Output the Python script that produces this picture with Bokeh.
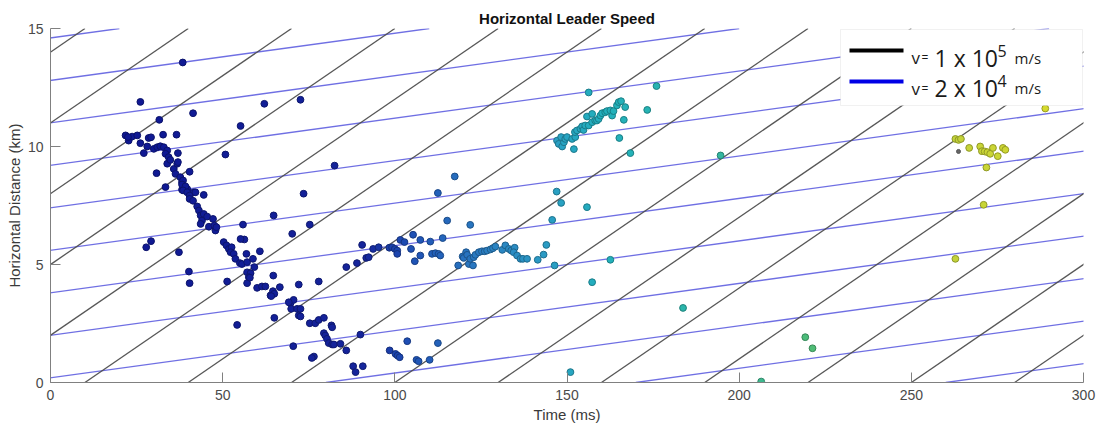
from bokeh.plotting import figure
from bokeh.models import Range1d, FixedTicker, Label, BoxAnnotation, ColumnDataSource, LinearColorMapper
from bokeh.transform import transform
from bokeh.embed import file_html
from bokeh.resources import INLINE

# ---------------- data ----------------
time_ms = [
    38.4, 26.1, 41.4, 31.6, 62.1, 72.6, 55.2, 50.8,
    21.8, 22.7, 23.7, 25.2, 22.5, 26.1, 28.5, 29.2, 32.7, 36.6,
    27.1, 28.1, 30.0, 31.0, 31.9, 32.9, 33.9, 33.4, 34.3, 33.9, 34.8, 35.8, 36.8, 37.0, 36.3, 37.7,
    38.2, 38.7, 39.7, 40.6, 41.6, 44.5, 38.2, 30.8, 33.4, 40.4, 37.0,
    38.5, 38.2, 39.2, 38.5, 39.7, 40.4, 40.4, 42.1, 41.4, 42.6, 43.1, 43.6, 44.5, 44.0, 45.5, 43.6,
    46.0, 47.2, 47.6, 47.9, 48.2,
    27.8, 29.2, 37.3, 40.2, 40.4,
    50.3, 51.1, 51.8, 52.6, 52.3, 53.2, 53.7, 55.0, 55.6, 56.3, 55.2, 55.9, 56.9, 57.1, 58.8, 59.2,
    60.8, 64.8, 70.2, 64.7, 57.1, 58.1, 57.6, 51.3, 54.2,
    57.1, 57.9, 60.0, 61.4, 62.4, 63.9, 64.6, 65.0, 66.6, 64.1, 65.0, 70.5, 69.7, 70.6, 69.9, 71.6,
    72.1, 72.1, 75.3, 77.9, 69.2, 72.6,
    72.6, 75.3, 76.9, 77.9, 79.4, 81.6, 81.8, 79.4, 79.8, 80.3, 80.8, 81.8, 82.3, 84.2, 85.9, 76.5, 75.9,
    87.9, 88.6, 90.7, 90.0,
    98.5, 100.2, 100.8, 101.4, 103.6, 106.3, 106.9, 110.1, 112.5,
    82.5, 73.5,
    85.9, 89.0, 91.7, 92.4, 90.5, 93.7, 95.3, 98.4, 99.2, 100.0, 100.7, 100.7, 101.6, 102.8, 105.3,
    104.7, 105.8, 107.4, 107.4, 110.3, 110.8, 111.8, 112.7, 113.2, 115.2, 113.9,
    117.4, 112.5, 121.9,
    118.4, 119.7, 120.0, 120.7, 121.0, 121.5, 121.9, 122.7, 122.9, 123.4, 124.4, 125.3, 126.1, 126.8,
    127.8, 128.5, 129.2, 131.2, 132.1, 133.1, 133.8, 134.8, 134.5, 135.5, 136.5, 137.2, 138.4, 141.5,
    143.2, 144.0, 146.4, 145.7, 147.0, 148.3, 155.8, 157.3,
    156.3, 176.0, 147.1, 147.6, 148.6, 149.1, 148.3, 149.5, 150.0, 151.5, 152.0, 152.4, 152.3, 152.9,
    153.9, 154.4, 154.8, 155.3, 155.8, 156.3, 157.3, 157.3, 158.2, 158.7, 159.2, 159.7, 160.2, 161.1,
    161.6, 162.6, 163.1, 163.5, 164.5, 165.0, 165.7, 166.9, 166.5, 165.2, 168.4, 173.3, 194.6,
    162.6, 151.0, 183.7, 219.2, 221.3, 206.4,
    262.8, 263.7, 264.4, 266.8, 270.0, 270.5, 271.3, 272.1, 272.9, 273.7, 275.1, 276.6, 277.3,
    271.8, 271.0, 262.8, 288.9,
]
dist_km = [
    13.56, 11.89, 11.41, 11.13, 11.81, 11.98, 10.87, 9.66,
    10.47, 10.25, 10.42, 10.47, 10.40, 10.14, 10.36, 10.39, 10.50, 10.50,
    9.72, 10.00, 9.90, 9.97, 10.01, 9.97, 9.83, 9.69, 9.55, 9.27, 9.43, 9.05, 9.27, 9.72, 8.84, 8.70,
    8.49, 8.28, 8.20, 7.99, 8.06, 7.95, 8.17, 8.87, 8.28, 8.93, 9.34,
    8.56, 8.39, 8.31, 8.14, 8.06, 7.92, 7.78, 8.06, 7.70, 7.46, 7.29, 7.08, 7.14, 6.86, 7.03, 6.72,
    6.60, 6.93, 6.65, 6.44, 6.58,
    5.73, 5.99, 5.52, 4.70, 4.21,
    5.95, 5.81, 5.66, 5.73, 5.52, 5.45, 5.24, 5.06, 5.02, 6.06, 6.08, 6.69, 5.45, 5.10, 5.24, 4.89,
    5.56, 7.08, 6.30, 4.53, 4.67, 4.63, 4.46, 4.28, 2.44,
    4.21, 4.44, 4.01, 4.07, 4.07, 3.69, 3.87, 3.76, 4.04, 3.66, 2.74, 1.54, 3.36, 3.50, 3.12, 3.12,
    2.84, 4.15, 6.69, 4.28, 3.40, 3.12,
    2.80, 2.51, 2.51, 2.65, 2.74, 2.42, 2.34, 2.09, 1.99, 1.85, 1.67, 1.61, 1.61, 1.64, 1.36, 1.10, 1.04,
    0.69, 0.44, 0.69, 2.03,
    1.36, 1.21, 1.14, 1.07, 1.75, 0.96, 0.90, 0.96, 1.67,
    9.19, 8.00,
    4.89, 5.06, 5.28, 5.31, 5.83, 5.66, 5.73, 5.71, 5.73, 5.66, 5.59, 5.45, 6.04, 5.95, 6.26,
    5.66, 5.14, 6.04, 5.38, 5.97, 5.45, 5.48, 5.45, 5.38, 6.86, 6.12,
    8.73, 8.03, 6.68,
    4.96, 5.34, 5.28, 5.52, 5.41, 5.02, 5.24, 4.96, 5.31, 5.41, 5.52, 5.56, 5.56, 5.59,
    5.64, 5.69, 5.76, 5.62, 5.81, 5.66, 5.59, 5.71, 5.52, 5.38, 5.24, 5.24, 5.24, 5.20,
    5.42, 5.83, 4.96, 6.89, 8.09, 7.61, 7.43, 4.25,
    12.29, 12.56, 10.25, 10.11, 10.00, 10.18, 10.40, 10.32, 10.40, 10.32, 9.89, 10.40, 10.61, 10.68,
    10.75, 10.85, 10.70, 10.89, 11.27, 10.89, 11.38, 11.03, 11.10, 11.10, 11.17, 11.31, 11.41, 11.45,
    11.50, 11.53, 11.31, 11.50, 11.74, 11.88, 11.92, 11.67, 11.13, 10.36, 9.72, 11.55, 9.62,
    5.20, 0.44, 3.16, 1.92, 1.45, 0.04,
    10.32, 10.28, 10.32, 9.94, 10.00, 9.80, 9.79, 9.76, 9.69, 9.94, 9.59, 9.94, 9.86,
    9.11, 7.53, 5.24, 11.61,
]
flag_time_ms = [263.7]
flag_dist_km = [9.79]

fast_speed_km_per_ms = 0.1    # 1 x 10^5 m/s
slow_speed_km_per_ms = 0.02   # 2 x 10^4 m/s
fast_start_ms = [-140, -110, -80, -50, -20, 10, 40, 70, 100, 130, 160, 190, 220, 250, 280]
slow_start_ms = [-730, -640, -550, -460, -370, -280, -190, -100, -10, 80, 170, 260]

x_ticks = [0, 50, 100, 150, 200, 250, 300]
y_ticks = [0, 5, 10, 15]
x_min, x_max = 0, 300
y_min, y_max = 0, 15

title_text = "Horizontal Leader Speed"
x_label = "Time (ms)"
y_label = "Horizontal Distance (km)"

# ---------------- colours ----------------
color_stops = [(20, "#0e1792"), (90, "#15249b"), (105, "#1f52b6"), (125, "#2a7cc2"),
               (145, "#2a9ec4"), (160, "#22b0bd"), (180, "#28b4b0"), (200, "#38b79a"),
               (220, "#4cbc78"), (262, "#c2d23a"), (290, "#d6da2e")]


def hex2rgb(h):
    return tuple(int(h[i:i + 2], 16) for i in (1, 3, 5))


def build_palette(stops, n, factor=1.0):
    lo, hi = stops[0][0], stops[-1][0]
    out = []
    for k in range(n):
        v = lo + (hi - lo) * k / (n - 1)
        for (a, ca), (b, cb) in zip(stops[:-1], stops[1:]):
            if a <= v <= b:
                f = (v - a) / (b - a)
                r1, r2 = hex2rgb(ca), hex2rgb(cb)
                rgb = [int(round((x1 + (x2 - x1) * f) * factor)) for x1, x2 in zip(r1, r2)]
                out.append("#%02x%02x%02x" % tuple(rgb))
                break
    return out


fill_pal = build_palette(color_stops, 256)
edge_pal = build_palette(color_stops, 256, 0.72)
fill_map = LinearColorMapper(palette=fill_pal, low=color_stops[0][0], high=color_stops[-1][0])
edge_map = LinearColorMapper(palette=edge_pal, low=color_stops[0][0], high=color_stops[-1][0])

# ---------------- figure ----------------
p = figure(width=1100, height=426, x_range=Range1d(x_min, x_max), y_range=Range1d(y_min, y_max),
           output_backend="svg", toolbar_location=None,
           min_border_left=50, min_border_right=17, min_border_top=28, min_border_bottom=44)
p.outline_line_color = None
p.grid.visible = False
p.background_fill_color = "white"
p.border_fill_color = "white"

p.title.text = title_text
p.title.align = "center"
p.title.text_font = "Liberation Sans"
p.title.text_font_size = "15px"
p.title.text_font_style = "bold"
p.title.text_color = "#111111"
p.title.standoff = 3
p.title.offset = 0

# velocity reference lines
fx = [[t0, t0 + (y_max - y_min) / fast_speed_km_per_ms] for t0 in fast_start_ms]
fy = [[y_min, y_max] for _ in fast_start_ms]
sx = [[t0, t0 + (y_max - y_min) / slow_speed_km_per_ms] for t0 in slow_start_ms]
sy = [[y_min, y_max] for _ in slow_start_ms]
p.multi_line(sx, sy, line_color="#6767e2", line_width=1.3, line_alpha=0.95)
p.multi_line(fx, fy, line_color="#4e4e4e", line_width=1.3, line_alpha=0.95)

src = ColumnDataSource(dict(t=time_ms, d=dist_km))
p.scatter("t", "d", source=src, marker="circle", size=6.8,
          fill_color=transform("t", fill_map), line_color=transform("t", edge_map), line_width=1)
p.scatter(flag_time_ms, flag_dist_km, marker="circle", size=4, fill_color="#666666", line_color="#555555")

# axes
for ax in (p.xaxis, p.yaxis):
    ax.major_tick_in = 10
    ax.major_tick_out = 0
    ax.minor_tick_line_color = None
    ax.axis_line_color = "#808080"
    ax.major_tick_line_color = "#808080"
    ax.major_label_text_font = "Liberation Sans"
    ax.major_label_text_font_size = "14px"
    ax.major_label_text_color = "#4a4a4a"
    ax.axis_label_text_font = "Liberation Sans"
    ax.axis_label_text_font_size = "15px"
    ax.axis_label_text_font_style = "normal"
    ax.axis_label_text_color = "#3a3a3a"
p.xaxis.ticker = FixedTicker(ticks=x_ticks)
p.yaxis.ticker = FixedTicker(ticks=y_ticks)
p.xaxis.axis_label = x_label
p.yaxis.axis_label = y_label
p.xaxis.major_label_standoff = 7
p.xaxis.axis_label_standoff = 3
p.yaxis.major_label_standoff = 7
p.yaxis.axis_label_standoff = 2

# legend (hand-built to mimic the reference)
p.add_layout(BoxAnnotation(left=790, right=1032, bottom=277, top=353,
                           left_units="screen", right_units="screen", top_units="screen", bottom_units="screen",
                           fill_color="white", fill_alpha=1.0, line_color="#cfcfcf", line_width=1, level="annotation"))
p.add_layout(BoxAnnotation(left=799, right=853, bottom=330, top=334,
                           left_units="screen", right_units="screen", top_units="screen", bottom_units="screen",
                           fill_color="black", fill_alpha=1.0, line_color=None, level="annotation"))
p.add_layout(BoxAnnotation(left=799, right=853, bottom=299, top=303,
                           left_units="screen", right_units="screen", top_units="screen", bottom_units="screen",
                           fill_color="#0000e6", fill_alpha=1.0, line_color=None, level="annotation"))

legend_rows = [("1 x 10", "5", 325), ("2 x 10", "4", 294.5)]
for big, sup, base in legend_rows:
    for txt, xx, yy, fs in [("v", 861, base, "17px"), ("=", 871, base, "12px"),
                            (big, 884, base, "23px"), (sup, 947, base + 7, "16px"),
                            ("m/s", 964, base, "15px")]:
        p.add_layout(Label(x=xx, y=yy, x_units="screen", y_units="screen", text=txt,
                           text_font="Open Sans", text_font_size=fs, text_color="#1a1a1a",
                           text_align="left", text_baseline="alphabetic"))

open("out.html", "w").write(file_html(p, INLINE))
